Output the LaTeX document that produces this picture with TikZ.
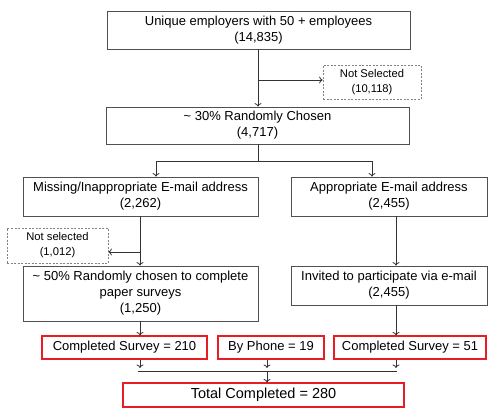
\documentclass[tikz,border=0pt]{standalone}
\usepackage{fontspec}
\setmainfont{Liberation Sans}
\definecolor{boxgray}{RGB}{80,80,80}
\definecolor{dashgray}{RGB}{130,130,130}
\definecolor{donered}{RGB}{232,28,36}
\usetikzlibrary{shapes,arrows.meta,positioning,calc}

\tikzset{
  flowbox/.style={draw=boxgray, line width=0.8pt, align=center, inner sep=0pt,
    font=\fontsize{13}{16}\selectfont},
  skipbox/.style={draw=dashgray, dashed, dash pattern=on 2pt off 1.5pt, line width=0.7pt,
    align=center, inner sep=0pt, font=\fontsize{11.2}{15}\selectfont},
  donebox/.style={draw=donered, line width=1.1pt, inner sep=0pt,
    font=\fontsize{13}{16}\selectfont},
  link/.style={draw=black!80, line width=0.8pt},
}

\begin{document}
\begin{tikzpicture}[x=1pt, y=-1pt, >={To[length=3.5pt,width=7pt]}]
\useasboundingbox (0,0) rectangle (488,408);
% sampling frame
\node[flowbox, minimum width=303pt, minimum height=38pt] (frame) at (258.5,30)
  {Unique employers with 50 + employees\\(14,835)};
\node[skipbox, minimum width=98pt, minimum height=34pt] (skip1) at (372,82)
  {Not Selected\\(10,118)};
\node[flowbox, minimum width=303pt, minimum height=37pt] (chosen) at (257.5,125.5)
  {\textasciitilde{} 30\% Randomly Chosen\\(4,717)};
% two arms
\node[flowbox, minimum width=235pt, minimum height=39pt] (nomail) at (140.5,196.5)
  {Missing/Inappropriate E-mail address\\(2,262)};
\node[flowbox, minimum width=196pt, minimum height=39pt] (okmail) at (389,196.5)
  {Appropriate E-mail address\\(2,455)};
\node[skipbox, minimum width=101pt, minimum height=35pt] (skip2) at (57.5,245.5)
  {Not selected\\(1,012)};
\node[flowbox, minimum width=235pt, minimum height=55pt] (paper) at (140.5,293.5)
  {\textasciitilde{} 50\% Randomly chosen to complete\\paper surveys\\(1,250)};
\node[flowbox, minimum width=196pt, minimum height=39pt] (invite) at (389,285.5)
  {Invited to participate via e-mail\\(2,455)};
% completed
\node[donebox, minimum width=165pt, minimum height=23pt] (donepaper) at (124.5,347.5)
  {Completed Survey = 210};
\node[donebox, minimum width=106pt, minimum height=23pt] (donephone) at (271,347.5)
  {By Phone = 19};
\node[donebox, minimum width=152pt, minimum height=23pt] (donemail) at (410,347.5)
  {Completed Survey = 51};
\node[donebox, minimum width=281pt, minimum height=24pt,
  font=\fontsize{14.5}{17}\selectfont] (total) at (263.5,395)
  {Total Completed = 280};

% connectors
\coordinate (drop1) at (258,80);
\coordinate (split) at (258,161);
\coordinate (splitL) at (156,161);
\coordinate (splitR) at (372,161);
\coordinate (drop2) at (140,252);
\coordinate (joinL) at (140,371);
\coordinate (joinM) at (267,371);
\coordinate (joinR) at (396,371);

\draw[link,->] (frame.south -| drop1) -- (drop1 |- chosen.north);
\draw[link,->] (drop1) -- (drop1 -| skip1.west);
\draw[link] (chosen.south -| split) -- (split);
\draw[link] (splitL) -- (splitR);
\draw[link,->] (splitL) -- (splitL |- nomail.north);
\draw[link,->] (splitR) -- (splitR |- okmail.north);
\draw[link,->] (nomail.south -| drop2) -- (drop2 |- paper.north);
\draw[link,->] (drop2) -- (drop2 -| skip2.east);
\draw[link,->] (okmail.south -| joinR) -- (joinR |- invite.north);
\draw[link,->] (paper.south -| joinL) -- (joinL |- donepaper.north);
\draw[link,->] (invite.south -| joinR) -- (joinR |- donemail.north);
\draw[link,->] (donepaper.south -| joinL) -- ([yshift=3pt]joinL);
\draw[link,->] (donephone.south -| joinM) -- ([yshift=3pt]joinM);
\draw[link,->] (donemail.south -| joinR) -- ([yshift=3pt]joinR);
\draw[link] ([xshift=-2pt]joinL) -- ([xshift=1pt]joinR);
\draw[link,->] (joinM) -- (joinM |- total.north);
\end{tikzpicture}
\end{document}
